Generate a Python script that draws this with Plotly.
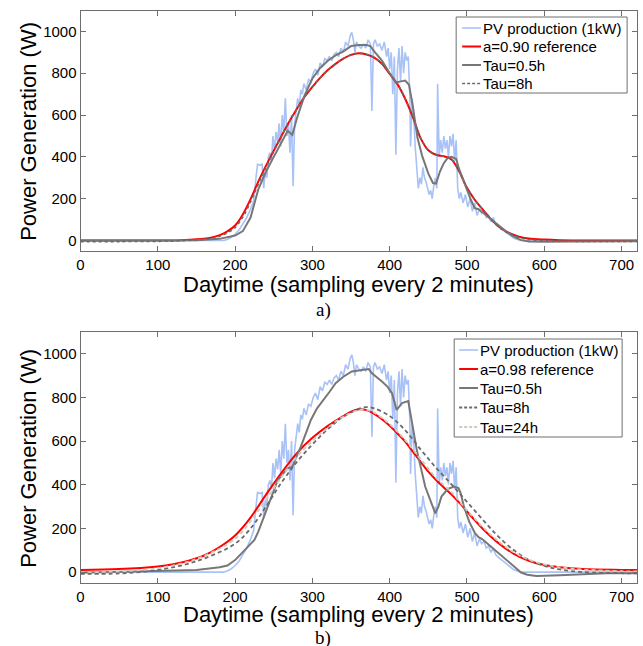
import plotly.graph_objects as go

# ---------------- data ----------------
pv_x = [0, 185, 190, 195, 200, 205, 210, 215, 220, 224, 227, 229, 232, 235, 237, 239, 241, 243, 245, 247,
        249, 251, 253, 255, 257, 259, 261, 263, 265, 267, 269, 271, 273, 275, 277, 279, 281, 283, 285, 287,
        289, 292, 295, 298, 301, 304, 307, 310, 313, 316, 319, 322, 325, 328, 331, 334, 337, 340, 343, 346,
        349, 351, 353, 355, 357, 360, 363, 366, 369, 372, 375, 377, 379, 381, 384, 387, 390, 393, 396, 398,
        400, 402, 404, 406, 408, 410, 412, 414, 416, 418, 420, 422, 424, 426, 427, 429, 431, 433, 435, 437,
        439, 441, 443, 445, 447, 449, 451, 453, 455, 457, 459, 461, 462, 464, 466, 468, 470, 472, 474, 476,
        478, 480, 482, 484, 486, 488, 490, 492, 495, 498, 501, 504, 507, 510, 513, 516, 519, 522, 525, 528,
        531, 534, 537, 540, 545, 550, 555, 560, 565, 570, 720]
pv_y = [0, 0, 5, 15, 30, 50, 80, 110, 150, 190, 300, 365, 360, 365, 250, 330, 300, 400, 420, 380,
        500, 430, 520, 470, 560, 450, 600, 520, 680, 500, 560, 420, 600, 260, 560, 620, 680, 640, 720, 700,
        750, 720, 770, 760, 800, 820, 790, 850, 830, 870, 860, 880, 860, 890, 900, 880, 920, 900, 950, 930,
        980, 995, 960, 900, 950, 930, 920, 940, 920, 960, 940, 620, 940, 960, 930, 940, 910, 950, 880, 920,
        820, 900, 700, 880, 410, 820, 920, 760, 930, 800, 900, 860, 880, 700, 450, 680, 600, 450, 330, 250,
        300, 270, 350, 300, 280, 250, 220, 240, 200, 260, 300, 250, 750, 400, 480, 420, 500, 440, 480, 400,
        500, 450, 510, 380, 480, 250, 200, 230, 180, 220, 160, 200, 140, 180, 120, 150, 130, 140, 110, 120,
        90, 110, 80, 70, 55, 40, 25, 12, 5, 0, 0]

# panel a)
ref90_x = [0, 50, 100, 130, 150, 170, 180, 190, 200, 210, 220, 230, 240, 250, 260, 270, 280, 290, 300, 310,
           320, 330, 340, 350, 360, 370, 380, 390, 400, 410, 420, 430, 440, 450, 460, 470, 480, 490, 500, 510,
           520, 530, 540, 550, 560, 570, 580, 600, 620, 650, 720]
ref90_y = [0, 0, 0, 2, 6, 15, 26, 44, 72, 125, 198, 282, 358, 430, 500, 568, 630, 688, 735, 778,
           815, 845, 870, 888, 895, 890, 875, 845, 797, 748, 678, 590, 490, 432, 410, 403, 388, 330, 252, 195,
           150, 106, 70, 45, 28, 16, 10, 5, 2, 0, 0]
a_tau8_y = [-5, -5, -4, -1, 3, 11, 21, 37, 62, 112, 185, 270, 350, 425, 498, 568, 630, 688, 735, 778,
            815, 845, 870, 888, 895, 890, 875, 845, 797, 748, 678, 590, 490, 432, 410, 403, 388, 330, 252, 195,
            150, 106, 68, 42, 24, 12, 5, -1, -3, -4, -4]
a_tau05_x = [0, 100, 150, 180, 190, 200, 210, 220, 230, 240, 250, 260, 268, 274, 280, 290, 300, 310, 320, 330,
             340, 350, 360, 370, 375, 380, 390, 400, 408, 413, 420, 425, 430, 436, 442, 450, 456, 460, 465, 470,
             475, 480, 486, 490, 495, 500, 505, 510, 515, 520, 530, 540, 550, 560, 570, 580, 600, 640, 720]
a_tau05_y = [0, 0, 2, 8, 15, 24, 45, 110, 245, 330, 400, 470, 525, 505, 585, 695, 775, 825, 860, 885,
             905, 930, 935, 935, 930, 905, 860, 800, 755, 760, 765, 745, 640, 490, 405, 320, 275, 272, 330, 370,
             395, 400, 390, 340, 290, 245, 195, 155, 150, 135, 105, 75, 45, 20, 2, -5, -6, -4, -3]

# panel b)
ref98_x = [0, 50, 100, 120, 140, 160, 180, 200, 220, 240, 260, 280, 300, 320, 340, 350, 360, 370, 380, 390,
           400, 410, 420, 430, 440, 450, 460, 470, 480, 490, 500, 510, 520, 540, 560, 580, 600, 620, 650, 700, 720]
ref98_y = [10, 14, 26, 36, 52, 76, 115, 168, 250, 355, 455, 545, 615, 670, 715, 735, 746, 742, 725, 700,
           670, 635, 598, 552, 505, 460, 422, 388, 355, 318, 278, 238, 200, 135, 85, 52, 32, 22, 14, 10, 9]
b_tau8_x = [0, 50, 100, 150, 200, 220, 240, 260, 280, 300, 320, 340, 360, 370, 380, 400, 420, 440, 460, 480,
            500, 520, 540, 560, 580, 600, 620, 650, 700, 720]
b_tau8_y = [-8, -6, 10, 50, 130, 200, 300, 410, 505, 585, 655, 712, 748, 756, 750, 715, 650, 562, 478, 402,
            322, 242, 165, 102, 56, 28, 12, 0, -5, -6]
b_tau24_y = [0, 3, 18, 60, 152, 232, 332, 435, 528, 600, 662, 712, 742, 743, 730, 678, 605, 518, 432, 366,
             283, 208, 143, 92, 57, 35, 22, 12, 4, 3]
b_tau05_x = [0, 100, 150, 180, 190, 200, 210, 220, 225, 230, 236, 246, 255, 263, 268, 274, 280, 285, 292, 298,
             306, 315, 322, 330, 340, 351, 362, 373, 377, 385, 390, 397, 403, 409, 416, 424, 428, 435, 446, 453,
             459, 463, 467, 475, 483, 489, 492, 496, 503, 510, 515, 520, 530, 540, 550, 560, 570, 578, 590, 620,
             650, 680, 720]
b_tau05_y = [-3, 5, 10, 22, 30, 55, 90, 125, 147, 185, 240, 338, 420, 455, 475, 483, 530, 575, 640, 697,
             750, 790, 825, 865, 895, 919, 925, 930, 911, 890, 873, 850, 820, 743, 774, 784, 700, 560, 391, 320,
             269, 300, 346, 380, 392, 385, 360, 300, 230, 180, 160, 150, 120, 90, 60, 30, -2, -12, -18, -15,
             -9, -5, -5]

x_ticks = [0, 100, 200, 300, 400, 500, 600, 700]
y_ticks = [0, 200, 400, 600, 800, 1000]

legend_a = ["PV production (1kW)", "a=0.90 reference", "Tau=0.5h", "Tau=8h"]
legend_b = ["PV production (1kW)", "a=0.98 reference", "Tau=0.5h", "Tau=8h", "Tau=24h"]

BLUE = "#a8c2f7"
RED = "#ff0000"
GRAY = "#777777"
DGRAY = "#6a6a6a"
LGRAY = "#cfcac0"
AXC = "#6e6e6e"

fig = go.Figure()

def add(x, y, name, color, dash="solid", width=2.0, row=1, shape="linear"):
    fig.add_trace(go.Scatter(
        x=x, y=y, name=name, mode="lines",
        line=dict(color=color, dash=dash, width=width, shape=shape, smoothing=1.0 if shape == "spline" else None),
        xaxis="x" if row == 1 else "x2", yaxis="y" if row == 1 else "y2",
        showlegend=False))

# panel a
add(pv_x, pv_y, legend_a[0], BLUE, width=1.6, row=1)
add(ref90_x, ref90_y, legend_a[1], RED, width=2.0, row=1, shape="spline")
add(a_tau05_x, a_tau05_y, legend_a[2], GRAY, width=2.0, row=1)
add(ref90_x, a_tau8_y, legend_a[3], DGRAY, dash="3px,3px", width=1.6, row=1, shape="spline")

# panel b
add(pv_x, pv_y, legend_b[0], BLUE, width=1.6, row=2)
add(ref98_x, ref98_y, legend_b[1], RED, width=2.0, row=2, shape="spline")
add(b_tau05_x, b_tau05_y, legend_b[2], GRAY, width=2.0, row=2)
add(b_tau8_x, b_tau8_y, legend_b[3], DGRAY, dash="4px,3px", width=1.8, row=2, shape="spline")
add(b_tau8_x, b_tau24_y, legend_b[4], LGRAY, dash="4px,3px", width=1.8, row=2, shape="spline")

W, H = 643, 646
xl, xr = 77 / W, 637 / W

ax_common = dict(showline=True, linecolor=AXC, linewidth=1, mirror="ticks", ticks="inside", ticklen=5,
                 tickcolor=AXC, showgrid=False, zeroline=False,
                 tickfont=dict(family="Liberation Sans, Arial", size=15, color="black"))

fig.update_layout(
    width=W, height=H, margin=dict(l=0, r=0, t=0, b=0),
    paper_bgcolor="white", plot_bgcolor="white", showlegend=False,
    xaxis=dict(domain=[xl, xr], range=[0, 720], tickvals=x_ticks, anchor="y", **ax_common),
    yaxis=dict(domain=[1 - 251 / H, 1 - 10.5 / H], range=[-50, 1100], tickvals=y_ticks, anchor="x", **ax_common),
    xaxis2=dict(domain=[xl, xr], range=[0, 720], tickvals=x_ticks, anchor="y2", **ax_common),
    yaxis2=dict(domain=[1 - 583 / H, 1 - 332 / H], range=[-50, 1100], tickvals=y_ticks, anchor="x2", **ax_common),
)

# ----- legends drawn as boxes, sample lines and text -----
def px_x(p):
    return p / W

def px_y(p):
    return 1 - p / H

def legend_box(left, top, right, bottom, names, styles, rows_y, sample_l, sample_r, text_l):
    fig.add_shape(type="rect", xref="paper", yref="paper", x0=px_x(left), x1=px_x(right),
                  y0=px_y(bottom), y1=px_y(top), fillcolor="white", line=dict(color=AXC, width=1), layer="above")
    for name, (col, dash, wid), yy in zip(names, styles, rows_y):
        fig.add_shape(type="line", xref="paper", yref="paper", x0=px_x(sample_l), x1=px_x(sample_r),
                      y0=px_y(yy), y1=px_y(yy), line=dict(color=col, dash=dash, width=wid), layer="above")
        fig.add_annotation(text=name, x=px_x(text_l), y=px_y(yy), xref="paper", yref="paper", showarrow=False,
                           xanchor="left", yanchor="middle",
                           font=dict(family="Liberation Sans, Arial", size=15, color="black"))

styles_a = [(BLUE, "solid", 1.6), (RED, "solid", 2), (GRAY, "solid", 2), (DGRAY, "3px,2px", 1.6)]
styles_b = [(BLUE, "solid", 1.6), (RED, "solid", 2), (GRAY, "solid", 2), (DGRAY, "3px,2px", 1.8),
            (LGRAY, "3px,2px", 1.8)]
legend_box(455, 17, 627, 93, legend_a, styles_a, [28, 46.5, 65, 83.5], 461, 480, 480)
legend_box(453, 339, 622, 437, legend_b, styles_b, [350, 369, 388, 407.5, 427], 458, 477, 477)

ann_font = dict(family="Liberation Sans, Arial", size=22, color="black")
serif = dict(family="Liberation Serif, Times New Roman", size=19, color="black")
xc = (xl + xr) / 2
fig.add_annotation(text="Daytime (sampling every 2 minutes)", x=xc, y=px_y(284), xref="paper", yref="paper",
                   showarrow=False, font=ann_font, xanchor="center", yanchor="middle")
fig.add_annotation(text="Daytime (sampling every 2 minutes)", x=xc, y=px_y(614), xref="paper", yref="paper",
                   showarrow=False, font=ann_font, xanchor="center", yanchor="middle")
fig.add_annotation(text="Power Generation (W)", x=px_x(24), y=px_y(131), xref="paper", yref="paper",
                   showarrow=False, font=ann_font, textangle=-90, xanchor="center", yanchor="middle")
fig.add_annotation(text="Power Generation (W)", x=px_x(24), y=px_y(458), xref="paper", yref="paper",
                   showarrow=False, font=ann_font, textangle=-90, xanchor="center", yanchor="middle")
fig.add_annotation(text="a)", x=px_x(321), y=px_y(310), xref="paper", yref="paper",
                   showarrow=False, font=serif, xanchor="center", yanchor="middle")
fig.add_annotation(text="b)", x=px_x(321), y=px_y(638), xref="paper", yref="paper",
                   showarrow=False, font=serif, xanchor="center", yanchor="middle")

fig.write_html("out.html")
